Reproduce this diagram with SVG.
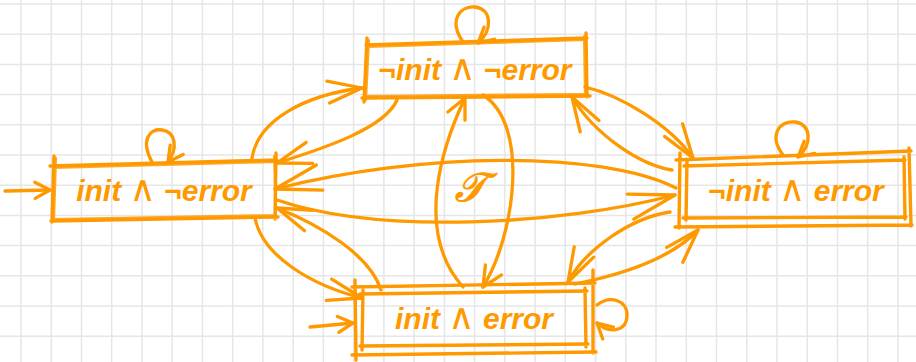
<svg xmlns="http://www.w3.org/2000/svg" width="916" height="362" viewBox="0 0 916 362">
<style>
.grid{stroke:#e6e6e6;stroke-width:1.5;fill:none}
.edge{stroke:#ff9900;stroke-width:3.4;fill:none;stroke-linecap:round;stroke-linejoin:round}
.edge2{stroke:#ff9900;stroke-width:2.2;fill:none;stroke-linecap:round;opacity:0.85}
.conn{stroke:#ff9900;stroke-width:3.3;fill:none;stroke-linecap:round;stroke-linejoin:round}
.lbl{font-family:"Liberation Sans",Arial,sans-serif;font-weight:bold;font-style:italic;font-size:30px;fill:#ff9900;text-anchor:middle}
.op{font-family:"DejaVu Sans",sans-serif;font-weight:normal;font-style:normal;font-size:36px}
.tl{font-family:"DejaVu Serif","Noto Sans",serif;font-style:italic;font-size:40px;fill:#ff9900;stroke:#ff9900;stroke-width:1.3;text-anchor:middle}
.head{stroke:#ff9900;stroke-width:3.3;fill:none;stroke-linecap:round;stroke-linejoin:round}
</style>
<defs>
<marker id="axl" markerUnits="userSpaceOnUse" viewBox="-60 -30 70 60" markerWidth="70" markerHeight="60" refX="0" refY="0" orient="auto" overflow="visible"><path class="head" d="M-46,-13 L0,0 L-46,13"/></marker>
<marker id="al" markerUnits="userSpaceOnUse" viewBox="-60 -30 70 60" markerWidth="70" markerHeight="60" refX="0" refY="0" orient="auto" overflow="visible"><path class="head" d="M-34,-11 L0,0 L-34,11"/></marker>
<marker id="am" markerUnits="userSpaceOnUse" viewBox="-60 -30 70 60" markerWidth="70" markerHeight="60" refX="0" refY="0" orient="auto" overflow="visible"><path class="head" d="M-20,-9.5 L0,0 L-20,9.5"/></marker>
<marker id="as" markerUnits="userSpaceOnUse" viewBox="-60 -30 70 60" markerWidth="70" markerHeight="60" refX="0" refY="0" orient="auto" overflow="visible"><path class="head" d="M-15,-8 L0,0 L-15,8"/></marker>
</defs>
<rect width="916" height="362" fill="#ffffff"/>
<path class="grid" d="M21,0V362M51.2,0V362M81.5,0V362M111.7,0V362M142,0V362M172.2,0V362M202.4,0V362M232.7,0V362M262.9,0V362M293.2,0V362M323.4,0V362M353.6,0V362M383.9,0V362M414.1,0V362M444.4,0V362M474.6,0V362M504.8,0V362M535.1,0V362M565.3,0V362M595.6,0V362M625.8,0V362M656,0V362M686.3,0V362M716.5,0V362M746.8,0V362M777,0V362M807.2,0V362M837.5,0V362M867.7,0V362M898,0V362M0,4H916M0,34.2H916M0,64.4H916M0,94.6H916M0,124.8H916M0,155H916M0,185.2H916M0,215.4H916M0,245.6H916M0,275.8H916M0,306H916M0,336.2H916"/>

<g id="connectors">
<path class="conn" d="M5,191 L50,190" marker-end="url(#as)"/>
<path class="conn" d="M310,327 L353,323" marker-end="url(#as)"/>
<path class="conn" d="M252,158 C258,120 305,95 362,88" marker-end="url(#al)"/>
<path class="conn" d="M397,100 C385,128 325,148 277,163" marker-end="url(#al)"/>
<path class="conn" d="M676,188 C600,150 420,152 275,189" marker-end="url(#axl)"/>
<path class="conn" d="M277,200 C380,235 560,225 675,195" marker-end="url(#axl)"/>
<path class="conn" d="M255,218 C262,255 310,285 362,298" marker-end="url(#al)"/>
<path class="conn" d="M381,290 C370,255 320,225 277,208" marker-end="url(#al)"/>
<path class="conn" d="M463,287 C412,230 445,140 465,98" marker-end="url(#am)"/>
<path class="conn" d="M483,95 C530,125 515,235 483,287" marker-end="url(#am)"/>
<path class="conn" d="M585,87 C620,95 670,125 693,158" marker-end="url(#al)"/>
<path class="conn" d="M672,170 C640,165 595,135 572,97" marker-end="url(#al)"/>
<path class="conn" d="M670,212 C630,218 585,250 568,282" marker-end="url(#al)"/>
<path class="conn" d="M575,284 C620,275 670,260 698,230" marker-end="url(#al)"/>
<path class="conn" d="M152,162 C140,140 150,128 162,130 C176,132 178,148 168,162" marker-end="url(#as)"/>
<path class="conn" d="M463,42 C448,20 460,6 475,7 C492,9 493,30 478,43" marker-end="url(#as)"/>
<path class="conn" d="M783,155 C768,135 780,120 795,122 C812,124 812,145 798,157" marker-end="url(#as)"/>
<path class="conn" d="M597,305 C610,295 628,300 627,316 C626,333 608,333 597,323" marker-end="url(#as)"/>
</g>

<g id="n1">
<path class="edge" d="M50,166 L277,160 M54,156 L52,222 M276,153 L275,219 M51,221 L278,217"/>
<path class="edge2" d="M53,168 L274,162 M56,158 L54,220 M274,156 L276,216 M53,219 L276,215"/>
<text class="lbl" x="164" y="201">init <tspan class="op">∧</tspan> ¬error</text>
</g>

<g id="n2">
<path class="edge" d="M366,45 L587,38 M367,38 L364,102 M586,33 L587,97 M362,98 L590,96"/>
<path class="edge2" d="M368,47 L585,40 M369,40 L366,100 M584,36 L585,95 M364,96 L588,94"/>
<text class="lbl" x="475" y="80">¬init <tspan class="op">∧</tspan> ¬error</text>
</g>

<g id="n3">
<path class="edge" d="M676,160 L911,151 M680,153 L679,228 M909,148 L911,226 M675,227 L912,225"/>
<path class="edge" d="M684,166 L905,160 M687,160 L686,220 M904,157 L905,219 M683,218 L906,217"/>
<text class="lbl" x="796" y="201">¬init <tspan class="op">∧</tspan> error</text>
</g>

<g id="n4">
<path class="edge" d="M352,287 L595,283 M355,280 L356,360 M593,270 L593,353 M352,355 L596,352"/>
<path class="edge" d="M360,294 L587,291 M363,290 L362,350 M585,288 L586,347 M360,346 L588,344"/>
<text class="lbl" x="474" y="329">init <tspan class="op">∧</tspan> error</text>
</g>

<g id="tlabel">
<text class="tl" x="470" y="201">𝒯</text>
</g>
</svg>
